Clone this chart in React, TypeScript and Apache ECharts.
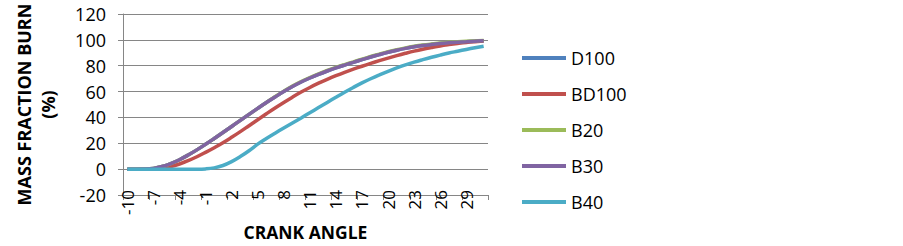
import React, { useEffect, useRef } from "react";
import * as echarts from "echarts";

const crankAngles: string[] = [];
for (let a = -10; a <= 31; a++) crankAngles.push(String(a));

const d100 = [0, 0, 0.1, 0.6, 2.0, 4.3, 7.3, 10.9, 14.9, 19.2, 23.7, 28.3, 33.0, 37.7, 42.4, 47.0, 51.5, 55.8, 60.0, 63.9, 67.4, 70.5, 73.3, 75.9, 78.3, 80.5, 82.6, 84.7, 86.7, 88.6, 90.4, 92.0, 93.4, 94.6, 95.6, 96.4, 97.1, 97.7, 98.2, 98.6, 99.0, 99.3];
const bd100 = [0, 0, 0, 0.2, 0.8, 2.0, 4.0, 6.6, 9.6, 13.0, 16.6, 20.4, 24.6, 29.0, 33.6, 38.2, 42.8, 47.3, 51.6, 55.7, 59.6, 63.2, 66.5, 69.5, 72.3, 74.9, 77.3, 79.6, 81.8, 83.9, 85.9, 87.8, 89.6, 91.3, 92.8, 94.1, 95.3, 96.3, 97.2, 98.0, 98.6, 99.1];
const b20 = [0, 0, 0.1, 0.6, 2.0, 4.3, 7.3, 10.9, 14.9, 19.2, 23.7, 28.3, 33.0, 37.7, 42.4, 47.0, 51.6, 56.0, 60.3, 64.3, 67.8, 70.9, 73.7, 76.3, 78.7, 80.9, 83.0, 85.1, 87.1, 89.0, 90.8, 92.4, 93.8, 95.0, 96.0, 96.8, 97.5, 98.1, 98.6, 99.0, 99.3, 99.6];
const b30 = [0, 0, 0.1, 0.6, 2.0, 4.3, 7.3, 10.9, 14.9, 19.2, 23.7, 28.3, 33.0, 37.7, 42.4, 47.0, 51.5, 55.8, 60.0, 63.9, 67.4, 70.5, 73.3, 75.9, 78.3, 80.5, 82.6, 84.7, 86.7, 88.6, 90.4, 92.0, 93.4, 94.6, 95.6, 96.4, 97.1, 97.7, 98.2, 98.6, 99.0, 99.3];
const b40 = [0, 0, 0, 0, 0, 0, 0, 0, 0, 0.2, 1.0, 2.8, 5.8, 9.7, 14.2, 19.3, 23.7, 27.8, 31.8, 35.7, 39.6, 43.6, 47.6, 51.6, 55.6, 59.5, 63.2, 66.7, 69.9, 72.9, 75.7, 78.3, 80.7, 82.8, 84.7, 86.5, 88.2, 89.8, 91.2, 92.6, 93.9, 95.1];

const seriesNames = ["D100", "BD100", "B20", "B30", "B40"];
const seriesColors = ["#4F81BD", "#C0504D", "#9BBB59", "#8064A2", "#4BACC6"];
const seriesData = [d100, bd100, b20, b30, b40];

const FONT = "'Open Sans', sans-serif";

export default function App() {
  const ref = useRef<HTMLDivElement>(null);
  useEffect(() => {
    if (!ref.current) return;
    const chart = echarts.init(ref.current, undefined, { renderer: "svg" });
    chart.setOption({
      animation: false,
      backgroundColor: "#ffffff",
      textStyle: { fontFamily: FONT },
      grid: { left: 123, right: 415, top: 14, bottom: 51, containLabel: false, outerBoundsMode: "none" },
      legend: {
        orient: "vertical",
        left: 517,
        top: 44,
        itemWidth: 44,
        itemHeight: 4,
        itemGap: 18,
        itemTextGap: 4,
        icon: "rect",
        textStyle: { fontFamily: FONT, fontSize: 18, color: "#000", lineHeight: 18 },
        data: seriesNames,
      },
      xAxis: {
        type: "category",
        data: crankAngles,
        boundaryGap: true,
        name: "CRANK ANGLE",
        nameLocation: "middle",
        nameGap: 28,
        nameTextStyle: { fontFamily: FONT, fontSize: 17.5, fontWeight: "bold", color: "#000" },
        axisLine: { onZero: false, lineStyle: { color: "#868686", width: 1 } },
        axisTick: { show: true, interval: 2, alignWithLabel: false, length: 5, lineStyle: { color: "#868686" } },
        axisLabel: { interval: 2, rotate: 90, margin: -5, fontFamily: FONT, fontSize: 17, color: "#000" },
        splitLine: { show: false },
      },
      yAxis: {
        type: "value",
        min: -20,
        max: 120,
        interval: 20,
        name: "MASS FRACTION BURN\n(%)",
        nameLocation: "middle",
        nameGap: 63,
        nameRotate: 90,
        nameTextStyle: { fontFamily: FONT, fontSize: 18, fontWeight: "bold", color: "#000", lineHeight: 24, align: "center" },
        axisLine: { show: true, lineStyle: { color: "#868686", width: 1 } },
        axisTick: { show: true, length: 5, inside: false, lineStyle: { color: "#868686" } },
        axisLabel: { margin: 17, fontFamily: FONT, fontSize: 18, color: "#000" },
        splitLine: { show: true, lineStyle: { color: "#868686", width: 1 } },
      },
      series: seriesNames.map((n, i) => ({
        name: n,
        type: "line",
        data: seriesData[i],
        smooth: 0.4,
        symbol: "none",
        color: seriesColors[i],
        lineStyle: { width: 3.5, color: seriesColors[i] },
      })),
    });
    return () => chart.dispose();
  }, []);
  return <div ref={ref} style={{ position: "absolute", left: 0, top: 0, width: 903, height: 246 }} />;
}
